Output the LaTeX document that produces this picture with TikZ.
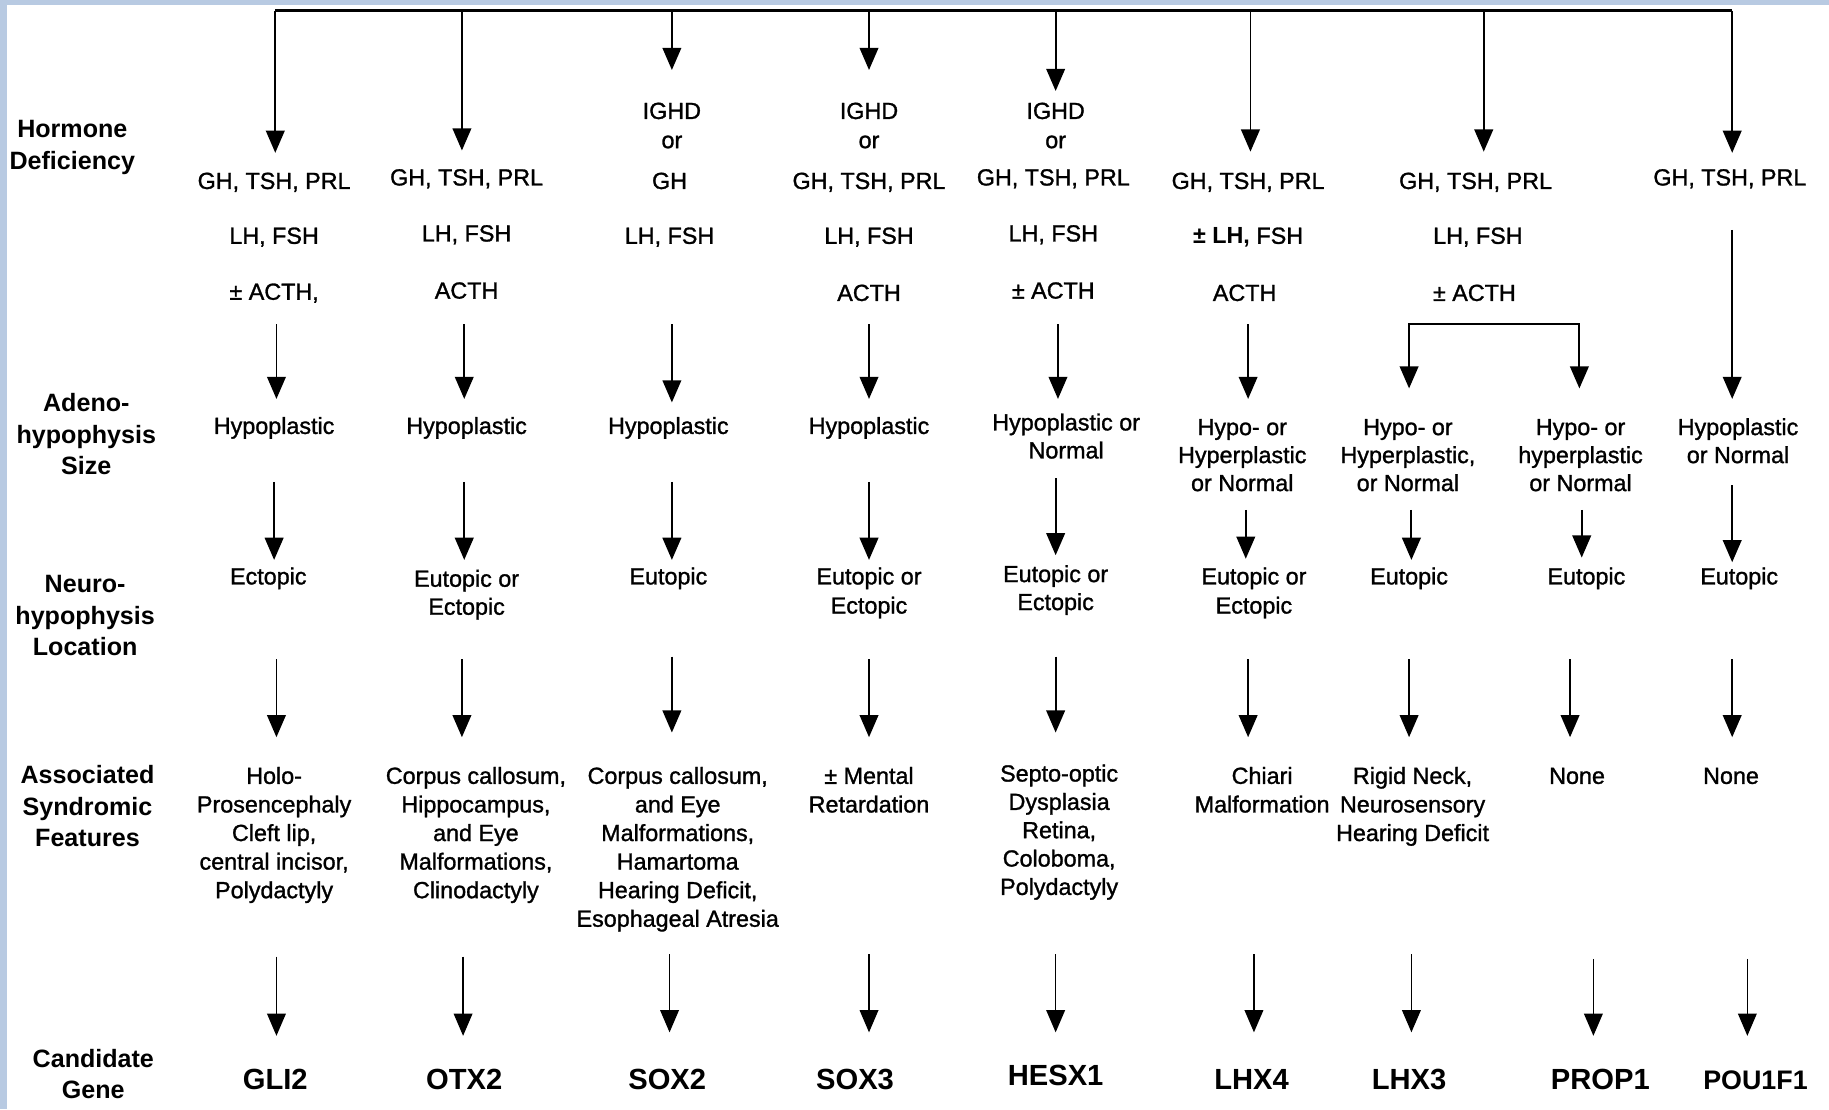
\documentclass[tikz,border=0pt]{standalone}
\usepackage{fontspec}
\setmainfont{Liberation Sans}
\newfontfamily\txtfont{Liberation Sans}[UprightFeatures={FakeBold=1.2}]
\usetikzlibrary{arrows.meta}
\definecolor{edgeblue}{RGB}{184,202,226}
\newcommand\cell[6]{%
  \foreach \cl [count=\ci] in {#6} {\node[#1] (#2-\ci) at (#3,{#4+(\ci-1)*#5}) {\cl};}}
\begin{document}
\begin{tikzpicture}[x=1pt,y=-1pt,
  txt/.style={inner sep=0pt, anchor=base, font=\txtfont\fontsize{20}{24}\selectfont},
  lab/.style={inner sep=0pt, anchor=base, font=\fontsize{21.5}{26}\selectfont\bfseries},
  gene/.style={inner sep=0pt, anchor=base, font=\fontsize{25}{30}\selectfont\bfseries},
  tip/.tip={Triangle[width=16pt,length=19pt]},
  arr/.style={line width=1.6pt, -tip},
  thinarr/.style={line width=1.2pt, -tip},
  bus/.style={line width=2.2pt}]
\useasboundingbox (0,0) rectangle (1568,951);
\fill[white] (0,0) rectangle (1568,951);
\fill[edgeblue] (0,0) rectangle (6,951);
\fill[edgeblue] (0,0) rectangle (1568,4.5);

% ---------- row labels ----------
\cell{lab}{lHD}{62}{118}{27}{Hormone,Deficiency}
\cell{lab}{lAS}{74}{353}{27}{Adeno-,hypophysis,Size}
\cell{lab}{lNL}{73}{508}{27}{Neuro-,hypophysis,Location}
\cell{lab}{lSF}{75}{672}{27}{Associated,Syndromic,Features}
\cell{lab}{lCG}{80}{915}{27}{Candidate,Gene}

% ---------- hormone deficiency ----------
\node[txt] (h1a) at (235,162) {GH, TSH, PRL};
\node[txt] (h1b) at (235,209) {LH, FSH};
\node[txt] (h1c) at (235,257) {± ACTH,};
\node[txt] (h2a) at (400,159) {GH, TSH, PRL};
\node[txt] (h2b) at (400,207) {LH, FSH};
\node[txt] (h2c) at (400,256) {ACTH};
\cell{txt}{h3i}{576}{102}{25}{IGHD,or}
\node[txt] (h3a) at (574,162) {GH};
\node[txt] (h3b) at (574,209) {LH, FSH};
\cell{txt}{h4i}{745}{102}{25}{IGHD,or}
\node[txt] (h4a) at (745,162) {GH, TSH, PRL};
\node[txt] (h4b) at (745,209) {LH, FSH};
\node[txt] (h4c) at (745,258) {ACTH};
\cell{txt}{h5i}{905}{102}{25}{IGHD,or}
\node[txt] (h5a) at (903,159) {GH, TSH, PRL};
\node[txt] (h5b) at (903,207) {LH, FSH};
\node[txt] (h5c) at (903,256) {± ACTH};
\node[txt] (h6a) at (1070,162) {GH, TSH, PRL};
\node[txt] (h6b) at (1070,209) {{\bfseries ± LH,} FSH};
\node[txt] (h6c) at (1067,258) {ACTH};
\node[txt] (h7a) at (1265,162) {GH, TSH, PRL};
\node[txt] (h7b) at (1267,209) {LH, FSH};
\node[txt] (h7c) at (1264,258) {± ACTH};
\node[txt] (h8a) at (1483,159) {GH, TSH, PRL};

% ---------- adenohypophysis size ----------
\node[txt] (s1) at (235,372) {Hypoplastic};
\node[txt] (s2) at (400,372) {Hypoplastic};
\node[txt] (s3) at (573,372) {Hypoplastic};
\node[txt] (s4) at (745,372) {Hypoplastic};
\cell{txt}{s5}{914}{369}{24}{Hypoplastic or,Normal}
\cell{txt}{s6}{1065}{373}{24}{Hypo- or,Hyperplastic,or Normal}
\cell{txt}{s7a}{1207}{373}{24}{Hypo- or,{Hyperplastic,},or Normal}
\cell{txt}{s7b}{1355}{373}{24}{Hypo- or,hyperplastic,or Normal}
\cell{txt}{s8}{1490}{373}{24}{Hypoplastic,or Normal}

% ---------- neurohypophysis location ----------
\node[txt] (n1) at (230,501) {Ectopic};
\cell{txt}{n2}{400}{503}{24}{Eutopic or,Ectopic}
\node[txt] (n3) at (573,501) {Eutopic};
\cell{txt}{n4}{745}{501}{25}{Eutopic or,Ectopic}
\cell{txt}{n5}{905}{499}{24}{Eutopic or,Ectopic}
\cell{txt}{n6}{1075}{501}{25}{Eutopic or,Ectopic}
\node[txt] (n7a) at (1208,501) {Eutopic};
\node[txt] (n7b) at (1360,501) {Eutopic};
\node[txt] (n8) at (1491,501) {Eutopic};

% ---------- associated syndromic features ----------
\cell{txt}{f1}{235}{672}{24.5}{Holo-,Prosencephaly,{Cleft lip,},{central incisor,},Polydactyly}
\cell{txt}{f2}{408}{672}{24.5}{{Corpus callosum,},{Hippocampus,},and Eye,{Malformations,},Clinodactyly}
\cell{txt}{f3}{581}{672}{24.5}{{Corpus callosum,},and Eye,{Malformations,},Hamartoma,{Hearing Deficit,},Esophageal Atresia}
\cell{txt}{f4}{745}{672}{24.5}{± Mental,Retardation}
\cell{txt}{f5}{908}{670}{24.3}{Septo-optic,Dysplasia,{Retina,},{Coloboma,},Polydactyly}
\cell{txt}{f6}{1082}{672}{24.5}{Chiari,Malformation}
\cell{txt}{f7a}{1211}{672}{24.5}{{Rigid Neck,},Neurosensory,Hearing Deficit}
\node[txt] (f7b) at (1352,672) {None};
\node[txt] (f8) at (1484,672) {None};

% ---------- candidate genes ----------
\node[gene] (g1) at (236,934) {GLI2};
\node[gene] (g2) at (398,934) {OTX2};
\node[gene] (g3) at (572,934) {SOX2};
\node[gene] (g4) at (733,934) {SOX3};
\node[gene] (g5) at (905,931) {HESX1};
\node[gene] (g6) at (1073,934) {LHX4};
\node[gene] (g7a) at (1208,934) {LHX3};
\node[gene] (g7b) at (1372,934) {PROP1};
\node[gene, font=\fontsize{23}{28}\selectfont\bfseries] (g8) at (1505,934) {POU1F1};

% ---------- top bus ----------
\coordinate (busL) at (236,9);
\coordinate (busR) at (1485,9);
\draw[bus] (busL) -- (busR);
\foreach \n/\x/\yb in {1/236/131, 2/396/129, 3/576/60, 4/745/60, 5/905/78, 6/1072/130, 7/1272/130, 8/1485/131}{
  \coordinate (t\n s) at (\x,9);
  \coordinate (t\n e) at (\x,\yb);
  \draw[arr] (t\n s) -- (t\n e);
}

% ---------- hormone -> size ----------
\foreach \n/\x/\ya/\yb in {1/237/278/342, 2/398/278/342, 3/576/278/345, 4/745/278/342, 5/907/278/342, 6/1070/278/342, 8/1485/197/342}{
  \coordinate (a\n s) at (\x,\ya);
  \coordinate (a\n e) at (\x,\yb);
  \draw[arr] (a\n s) -- (a\n e);
}
\coordinate (k1) at (1208,333);
\coordinate (k2) at (1208,278);
\coordinate (k3) at (1354,278);
\coordinate (k4) at (1354,333);
\draw[line width=1.8pt, tip-tip] (k1) -- (k2) -- (k3) -- (k4);

% ---------- size -> location ----------
\foreach \n/\x/\ya/\yb in {1/235/413/480, 2/398/413/480, 3/576/413/480, 4/745/413/480, 5/905/410/476, 6/1068/437/479, 7a/1210/437/480, 7b/1356/437/478, 8/1485/416/482}{
  \coordinate (b\n s) at (\x,\ya);
  \coordinate (b\n e) at (\x,\yb);
  \draw[arr] (b\n s) -- (b\n e);
}

% ---------- location -> features ----------
\foreach \n/\x/\ya/\yb in {1/237/565/632, 2/396/565/632, 3/576/563/628, 4/745/565/632, 5/905/563/628, 6/1070/565/632, 7a/1208/565/632, 7b/1346/565/632, 8/1485/565/632}{
  \coordinate (c\n s) at (\x,\ya);
  \coordinate (c\n e) at (\x,\yb);
  \draw[arr] (c\n s) -- (c\n e);
}

% ---------- features -> gene ----------
\foreach \n/\x/\ya/\yb in {1/237/820/888, 2/397/820/888, 3/574/818/885, 4/745/818/885, 5/905/818/885, 6/1075/818/885, 7a/1210/818/885, 7b/1366/822/888, 8/1498/822/888}{
  \coordinate (d\n s) at (\x,\ya);
  \coordinate (d\n e) at (\x,\yb);
  \draw[thinarr] (d\n s) -- (d\n e);
}
\end{tikzpicture}
\end{document}
